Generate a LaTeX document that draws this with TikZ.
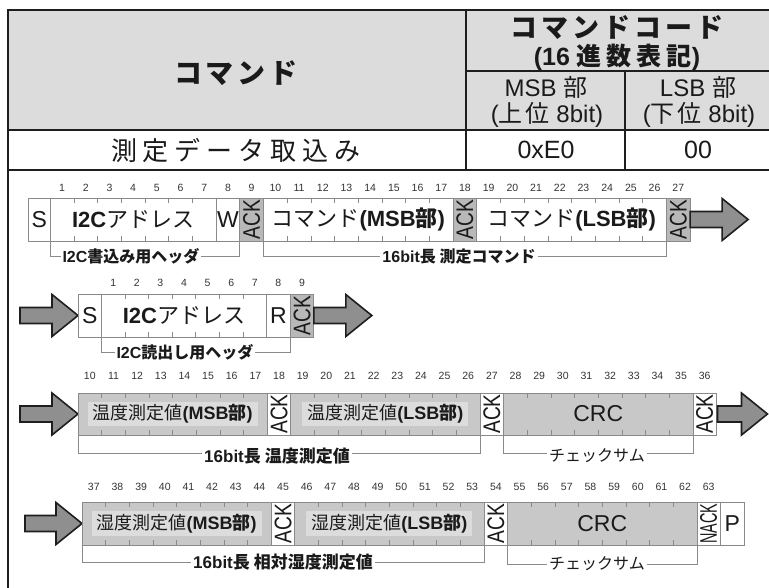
\documentclass[tikz,border=0pt]{standalone}
\usepackage{fontspec}
\setmainfont{Liberation Sans}
\newfontfamily\jp{Noto Sans CJK JP}
\usepackage{graphicx}

\definecolor{hdr}{HTML}{DCDCDC}
\definecolor{tline}{HTML}{1E1E1E}
\definecolor{bline}{HTML}{8A8A8A}
\definecolor{ackfill}{HTML}{B8B8B8}
\definecolor{datafill}{HTML}{C8C8C8}
\definecolor{hlc}{HTML}{DCDCDC}
\definecolor{arrowfill}{HTML}{8F8F8F}
\definecolor{txt}{HTML}{1A1A1A}
\definecolor{num}{HTML}{333333}

\newcommand\fs[1]{\fontsize{#1}{#1}\selectfont}
\newcommand\J[1]{{\jp#1}}
\makeatletter
\def\spc@end{}
\newcommand\spc[2]{\def\spc@k{#1}\spc@go#2\spc@end\kern-#1\relax}
\def\spc@go#1{\ifx#1\spc@end\else#1\kern\spc@k\relax\expandafter\spc@go\fi}
\makeatother
\newcommand\ackt{\rotatebox{90}{\scalebox{0.8}[1]{\fs{24}ACK}}}
\newcommand\nackt{\rotatebox{90}{\scalebox{0.6}[1]{\fs{24}NACK}}}
% name, left, right, top, bottom, style, text
\newcommand\cell[7]{\node[cellbase,#6,minimum width={#3-#2},minimum height={#5-#4},anchor=north west] (#1) at (#2,#4) {#7};}
% left, step, count, top, bottom
\newcommand\ticks[5]{\foreach \i in {1,...,#3} {\draw[bittick] ({#1+\i*#2},#4) -- ++(0,5) ({#1+\i*#2},#5) -- ++(0,-5);}}
% left x, center y, length
\newcommand\rarrow[3]{\draw[arrowstyle] (#1,#2-8) -- ({#1+#3-26},#2-8) -- ({#1+#3-26},#2-21) -- ({#1+#3},#2) -- ({#1+#3-26},#2+21) -- ({#1+#3-26},#2+8) -- (#1,#2+8) -- cycle;}

\begin{document}
\begin{tikzpicture}[x=1pt,y=-1pt,
  cellbase/.style={draw=bline,line width=0.8pt,inner sep=0pt,outer sep=0pt,text=txt,font=\fs{22}},
  ackcell/.style={fill=ackfill},
  datacell/.style={fill=datafill},
  bittick/.style={draw=bline,line width=0.7pt},
  bitnum/.style={font=\fs{10.5},text=num,inner sep=0pt},
  brk/.style={draw=bline,line width=0.8pt},
  brklabel/.style={fill=white,inner sep=2pt,text=txt,font=\fs{16}\bfseries},
  hlbox/.style={fill=hlc,inner xsep=5pt,inner ysep=3pt,text=txt,font=\fs{18}},
  arrowstyle/.style={draw=tline,line width=1.6pt,fill=arrowfill,line join=miter},
  tbl/.style={draw=tline,line width=2pt},
  tbltext/.style={text=txt,inner sep=0pt}]
\useasboundingbox (0,0) rectangle (769,588);

% ---------- table ----------
\fill[hdr] (8,10) rectangle (775,130);
\draw[tbl] (7,10) -- (775,10);
\draw[tbl] (8,9) -- (8,588);
\draw[tbl] (466,10) -- (466,170);
\draw[tbl,line width=1.5pt] (466,71) -- (775,71);
\draw[tbl,line width=1.5pt] (625,71) -- (625,170);
\draw[tbl] (8,130) -- (775,130);
\draw[tbl,line width=1.5pt] (8,170) -- (775,170);

\node[tbltext] (hcmd) at (236,73) {\fs{28}\bfseries\J{\spc{4pt}{コマンド}}};
\node[tbltext] (hcode) at (617,28) {\fs{27}\bfseries\J{\spc{4pt}{コマンドコード}}};
\node[tbltext] (hhex) at (617,57) {\fs{25}\bfseries (16 \J{\spc{5pt}{進数表記}})};
\node[tbltext] (hmsb) at (546,87) {\fs{24}MSB \J{部}};
\node[tbltext] (hmsb2) at (547,115) {\fs{24}(\J{\spc{3pt}{上位}} 8bit)};
\node[tbltext] (hlsb) at (698,87) {\fs{24}LSB \J{部}};
\node[tbltext] (hlsb2) at (699,115) {\fs{24}(\J{\spc{3pt}{下位}} 8bit)};
\node[tbltext] (dcmd) at (236,151) {\fs{26}\J{\spc{6pt}{測定データ取込み}}};
\node[tbltext] (dmsb) at (546,150) {\fs{25}0xE0};
\node[tbltext] (dlsb) at (698,150) {\fs{25}00};

% ---------- row 1 ----------
\foreach \k in {1,...,27} \node[bitnum] (na\k) at ({50.2+(\k-0.5)*23.7},188) {\k};
\cell{s1}{28.5}{50.2}{198}{241}{fill=white}{\fs{23}S}
\cell{addr1}{50.2}{216.1}{198}{241}{fill=white}{\bfseries I2C\mdseries\J{アドレス}}
\cell{w1}{216.1}{239.8}{198}{241}{fill=white}{\fs{23}W}
\cell{acka}{239.8}{263.5}{198}{241}{ackcell}{\ackt}
\cell{cmsb}{263.5}{453.1}{198}{241}{fill=white}{\J{コマンド}\textbf{(MSB\J{部})}}
\cell{ackb}{453.1}{476.8}{198}{241}{ackcell}{\ackt}
\cell{clsb}{476.8}{666.4}{198}{241}{fill=white}{\J{コマンド}\textbf{(LSB\J{部})}}
\cell{ackc}{666.4}{690.1}{198}{241}{ackcell}{\ackt}
\ticks{50.2}{23.7}{6}{198}{241}
\ticks{263.5}{23.7}{7}{198}{241}
\ticks{476.8}{23.7}{7}{198}{241}
\rarrow{690.1}{219.5}{58}
\draw[brk] (addr1.south west) -- ++(0,15) -| (acka.south west);
\draw[brk] (cmsb.south west) -- ++(0,15) -| (ackc.south west);
\node[brklabel] (la1) at (131,256) {I2C\J{書込み用ヘッダ}};
\node[brklabel] (la2) at (459,256) {16bit\J{長 測定コマンド}};

% ---------- row 2 ----------
\foreach \k in {1,...,9} \node[bitnum] (nb\k) at ({101.4+(\k-0.5)*23.6},283) {\k};
\rarrow{20}{315.5}{58}
\cell{s2}{78}{101.4}{294}{337}{fill=white}{\fs{23}S}
\cell{addr2}{101.4}{266.6}{294}{337}{fill=white}{\bfseries I2C\mdseries\J{アドレス}}
\cell{r2}{266.6}{290.2}{294}{337}{fill=white}{\fs{23}R}
\cell{ackd}{290.2}{313.8}{294}{337}{ackcell}{\ackt}
\ticks{101.4}{23.6}{6}{294}{337}
\rarrow{313.8}{315.5}{58}
\draw[brk] (addr2.south west) -- ++(0,15) -| (ackd.south west);
\node[brklabel] (lb1) at (185,352) {I2C\J{読出し用ヘッダ}};

% ---------- row 3 ----------
\foreach \k in {10,...,36} \node[bitnum] (nc\k) at ({78+(\k-9.5)*23.65},376) {\k};
\rarrow{20}{414}{58}
\cell{tmsb}{78}{267.2}{393}{435}{datacell}{}
\cell{acke}{267.2}{290.85}{393}{435}{fill=white}{\ackt}
\cell{tlsb}{290.85}{480.05}{393}{435}{datacell}{}
\cell{ackf}{480.05}{503.7}{393}{435}{fill=white}{\ackt}
\cell{tcrc}{503.7}{692.9}{393}{435}{datacell}{\fs{23}CRC}
\cell{ackg}{692.9}{716.55}{393}{435}{fill=white}{\ackt}
\ticks{78}{23.65}{7}{393}{435}
\ticks{290.85}{23.65}{7}{393}{435}
\ticks{503.7}{23.65}{7}{393}{435}
\node[hlbox] (tmsbL) at (tmsb.center) {\J{温度測定値}\textbf{(MSB\J{部})}};
\node[hlbox] (tlsbL) at (tlsb.center) {\J{温度測定値}\textbf{(LSB\J{部})}};
\rarrow{717.5}{414}{50}
\draw[brk] (tmsb.south west) -- ++(0,18) -| (ackf.south west);
\draw[brk] (tcrc.south west) -- ++(0,18) -| (ackg.south west);
\node[brklabel,font=\fs{17}\bfseries] (lc1) at (277,456) {16bit\J{長 温度測定値}};
\node[brklabel,font=\fs{16}] (lc2) at (597,456) {\J{チェックサム}};

% ---------- row 4 ----------
\foreach \k in {37,...,63} \node[bitnum] (nd\k) at ({82+(\k-36.5)*23.65},487) {\k};
\rarrow{25}{523.5}{57}
\cell{hmsb}{82}{271.2}{502}{545}{datacell}{}
\cell{ackh}{271.2}{294.85}{502}{545}{fill=white}{\ackt}
\cell{hlsb}{294.85}{484.05}{502}{545}{datacell}{}
\cell{acki}{484.05}{507.7}{502}{545}{fill=white}{\ackt}
\cell{hcrc}{507.7}{696.9}{502}{545}{datacell}{\fs{23}CRC}
\cell{nack}{696.9}{720.55}{502}{545}{fill=white}{\nackt}
\cell{p4}{720.55}{744.2}{502}{545}{fill=white}{\fs{23}P}
\ticks{82}{23.65}{7}{502}{545}
\ticks{294.85}{23.65}{7}{502}{545}
\ticks{507.7}{23.65}{7}{502}{545}
\node[hlbox] (hmsbL) at (hmsb.center) {\J{湿度測定値}\textbf{(MSB\J{部})}};
\node[hlbox] (hlsbL) at (hlsb.center) {\J{湿度測定値}\textbf{(LSB\J{部})}};
\draw[brk] (hmsb.south west) -- ++(0,17) -| (acki.south west);
\draw[brk] (hcrc.south west) -- ++(0,19) -| (nack.south west);
\node[brklabel,font=\fs{17}\bfseries] (ld1) at (283,562) {16bit\J{長 相対湿度測定値}};
\node[brklabel,font=\fs{16}] (ld2) at (597,564) {\J{チェックサム}};
\end{tikzpicture}
\end{document}
